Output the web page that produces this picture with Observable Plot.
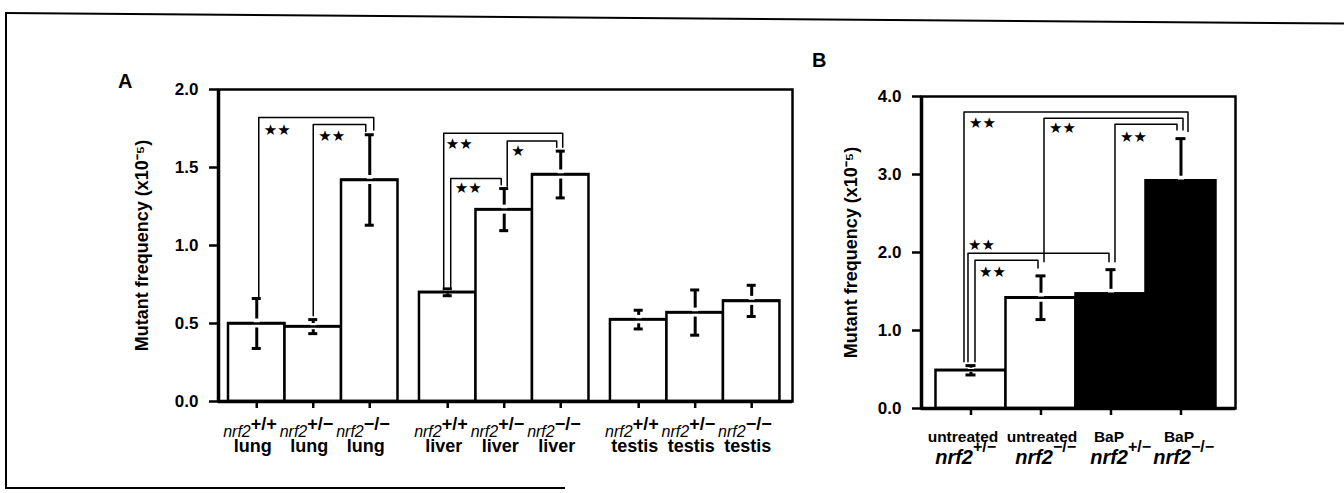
<!DOCTYPE html>
<html><head><meta charset="utf-8">
<script src="https://cdn.jsdelivr.net/npm/d3@7"></script>
<script src="https://cdn.jsdelivr.net/npm/@observablehq/plot@0.6"></script>
<style>
html,body{margin:0;padding:0;background:#fff}
body{width:1344px;height:493px;position:relative;overflow:hidden;font-family:"Liberation Sans",Arial,Helvetica,sans-serif}
.panel{position:absolute}
.panel svg{max-width:none;overflow:visible;background:transparent}
.letter{position:absolute;font-weight:bold;font-size:20px;line-height:1}
.bl{position:absolute;background:#000}
</style></head><body>
<div class="bl" style="left:5px;top:12px;width:1.5px;height:476px"></div>
<div class="bl" style="left:5px;top:487px;width:560px;height:1.5px"></div>
<div class="bl" style="left:5px;top:12px;width:1340px;height:1.5px;transform-origin:0 0;transform:rotate(0.45deg)"></div>
<div class="letter" style="left:118px;top:71px">A</div>
<div class="letter" style="left:812px;top:50px">B</div>
<div id="A" class="panel" style="left:100px;top:60px;width:700px"></div>
<div id="B" class="panel" style="left:800px;top:60px;width:470px"></div>
<script>
// ---------------- DATA ----------------
// Panel A: mutant frequency by tissue and genotype
const tissuesA = ["lung", "liver", "testis"];
const genotypesA = ["+/+", "+/−", "−/−"];
const meanA = [0.50, 0.48, 1.42, 0.70, 1.23, 1.455, 0.525, 0.57, 0.645];
const errA  = [0.16, 0.045, 0.29, 0.022, 0.135, 0.15, 0.06, 0.145, 0.10];
const yTicksA = [0, 0.5, 1.0, 1.5, 2.0];
// significance brackets (bar indices, heights in y units)
const brFromA = [0, 1, 3, 3, 4];
const brToA = [2, 2, 5, 4, 5];
const brTopA = [1.82, 1.775, 1.72, 1.43, 1.67];
const brLeftEndA = [0.67, 0.55, 0.72, 0.72, 1.38];
const brRightEndA = [1.74, 1.73, 1.63, 1.39, 1.63];
const brLabelA = ["**", "**", "**", "**", "*"];

// Panel B: untreated vs BaP
const treatmentsB = ["untreated", "untreated", "BaP", "BaP"];
const genotypesB = ["+/−", "−/−", "+/−", "−/−"];
const meanB = [0.49, 1.42, 1.47, 2.92];
const errB = [0.06, 0.28, 0.31, 0.54];
const exposedB = [false, false, true, true];
const yTicksB = [0, 1, 2, 3, 4];
const brFromB = [0, 1, 2, 0, 0];
const brToB = [3, 3, 3, 2, 1];
const brTopB = [3.80, 3.72, 3.645, 1.99, 1.90];
const brLeftEndB = [0.60, 1.88, 1.88, 0.60, 0.60];
const brRightEndB = [3.55, 3.57, 3.57, 1.88, 1.80];
const brLabelB = ["**", "**", "**", "**", "**"];

const yLabel = "Mutant frequency (x10⁻⁵)";
const FONT = '"Liberation Sans", Arial, Helvetica, sans-serif';

// ---------------- LAYOUT / BUILD ----------------
function buildPanel(o) {
  const plotW = o.width - o.ml - o.mr, plotH = o.height - o.mt - o.mb;
  const ux = plotW / o.xMax, uy = plotH / o.yMax;
  const bars = o.bars.map((b, i) => ({...b, i, lo: b.mean - b.err, hi: b.mean + b.err,
    g: Math.min(o.gapPx / uy, b.err * 0.45)}));
  const capU = o.capPx / ux;
  const segs = [], stars = [];
  o.brackets.forEach((b, k) => {
    const xl = bars[b.from].c + o.legDx[k][0] / ux;
    const xr = bars[b.to].c + o.legDx[k][1] / ux;
    segs.push({k, x: xl, y: b.left}, {k, x: xl, y: b.top}, {k, x: xr, y: b.top}, {k, x: xr, y: b.right});
    stars.push({x: xl + o.starOff[k][0] / ux, y: b.top - o.starOff[k][1] / uy, t: b.label.replace(/\*/g, "★")});
  });
  return Plot.plot({
    width: o.width, height: o.height,
    marginLeft: o.ml, marginRight: o.mr, marginTop: o.mt, marginBottom: o.mb,
    x: {domain: [0, o.xMax]},
    y: {domain: [0, o.yMax]},
    color: {type: "identity"},
    style: {fontFamily: FONT, background: "transparent", overflow: "visible", color: "black"},
    marks: [
      Plot.rectY(bars, {x1: "x1", x2: "x2", y1: 0, y2: "mean", fill: "fill", stroke: "black", strokeWidth: 2.5}),
      Plot.ruleX(bars, {x: "c", y1: "lo", y2: "hi", stroke: "black", strokeWidth: 3}),
      Plot.ruleX(bars, {x: "c", y1: "mean", y2: d => d.mean + d.g, stroke: "white", strokeWidth: 6}),
      Plot.ruleX(bars, {x: "c", y1: d => d.mean - d.g, y2: "mean", stroke: "fill", strokeWidth: 6}),
      Plot.ruleY(bars, {y: "mean", x1: "x1", x2: "x2", stroke: "black", strokeWidth: 2.5}),
      Plot.ruleY(bars, {y: "hi", x1: d => d.c - capU, x2: d => d.c + capU, stroke: "black", strokeWidth: 3}),
      Plot.ruleY(bars, {y: "lo", x1: d => d.c - capU, x2: d => d.c + capU, stroke: "black", strokeWidth: 3}),
      Plot.frame({stroke: "black", strokeWidth: 2.5}),
      Plot.ruleX([0], {stroke: "black", strokeWidth: 3.5}),
      Plot.ruleY([0], {stroke: "black", strokeWidth: 3.5}),
      Plot.axisY(o.yTicks, {tickFormat: d3.format(".1f"), tickSize: 9, tickPadding: 11, fontSize: 17,
        fontWeight: "bold", stroke: "black", strokeWidth: 2.5, label: null}),
      Plot.axisX(bars.map(d => d.c), {tickSize: 7, tickFormat: () => "", stroke: "black", strokeWidth: 2.5, label: null}),
      Plot.text([yLabel], {frameAnchor: "left", textAnchor: "middle", rotate: -90, dx: -o.yLabelOff,
        fontSize: 18, fontWeight: "bold", fill: "black"}),
      Plot.line(segs, {x: "x", y: "y", z: "k", stroke: "black", strokeWidth: 1.5}),
      Plot.text(stars, {x: "x", y: "y", text: "t", textAnchor: "start", fontSize: 15, fontFamily: "DejaVu Sans", fill: "black"}),
      ...o.labelMarks(bars, ux)
    ]
  });
}

// Panel A bars
const padA = 0.177, gapA = 0.38;
const barsA = meanA.map((m, i) => {
  const g = Math.floor(i / 3), j = i % 3;
  const x1 = padA + g * (3 + gapA) + j;
  return {mean: m, err: errA[i], x1, x2: x1 + 1, c: x1 + 0.5, fill: "white",
          tissue: tissuesA[g], geno: genotypesA[j]};
});
const bracketsA = brFromA.map((f, k) => ({from: f, to: brToA[k], top: brTopA[k],
  left: brLeftEndA[k], right: brRightEndA[k], label: brLabelA[k]}));

const chartA = buildPanel({
  width: 700, height: 420, ml: 118, mr: 8, mt: 29, mb: 79,
  xMax: 574 / 56.5, yMax: 2.0, yTicks: yTicksA, bars: barsA, brackets: bracketsA,
  capPx: 4.5, gapPx: 4.5, yLabelOff: 76,
  legDx: [[2, 4], [0, -4], [-4, 2], [3, -3], [3, -4]],
  starOff: [[5, 13], [5, 12], [2, 11], [4, 10], [4, 10]],
  labelMarks: (bars) => [
    Plot.text(bars, {x: "c", y: 0, text: () => "nrf2", dx: -6, dy: 30, textAnchor: "end", fontStyle: "italic", fontSize: 16, fill: "black"}),
    Plot.text(bars, {x: "c", y: 0, text: "geno", dx: -6, dy: 23, textAnchor: "start", fontWeight: "bold", fontSize: 18, fill: "black"}),
    Plot.text(bars, {x: "c", y: 0, text: "tissue", dx: -4, dy: 45, fontWeight: "bold", fontSize: 18, fill: "black"})
  ]
});
document.getElementById("A").appendChild(chartA);

// Panel B bars
const padB = 0.207;
const barsB = meanB.map((m, i) => ({mean: m, err: errB[i], x1: padB + i, x2: padB + i + 1, c: padB + i + 0.5,
  fill: exposedB[i] ? "black" : "white", treat: treatmentsB[i], geno: genotypesB[i]}));
const bracketsB = brFromB.map((f, k) => ({from: f, to: brToB[k], top: brTopB[k],
  left: brLeftEndB[k], right: brRightEndB[k], label: brLabelB[k]}));

// per-label horizontal nudges (px) as in the reference
const line1DxB = [-8, 1, -2, -2];
const line2DxB = [2, 12, 17, 10];
const chartB = buildPanel({
  width: 470, height: 420, ml: 121, mr: 35, mt: 36, mb: 72,
  xMax: 314 / 70, yMax: 4.0, yTicks: yTicksB, bars: barsB, brackets: bracketsB,
  capPx: 5, gapPx: 4.5, yLabelOff: 70,
  legDx: [[-7, 7], [3, 2], [4, -4], [-3, -2], [4, -3]],
  starOff: [[5, 11], [5, 10], [5, 13], [0, -8], [4, 12]],
  labelMarks: (bars, ux) => [
    Plot.text(bars, {x: d => d.c + line1DxB[d.i] / ux, y: 0, text: "treat", dy: 29, fontWeight: "bold", fontSize: 15.5, fill: "black"}),
    Plot.text(bars, {x: d => d.c + line2DxB[d.i] / ux, y: 0, text: () => "nrf2", dy: 49, textAnchor: "end", fontStyle: "italic", fontWeight: "bold", fontSize: 20, fill: "black"}),
    Plot.text(bars, {x: d => d.c + line2DxB[d.i] / ux, y: 0, text: "geno", dy: 38, textAnchor: "start", fontWeight: "bold", fontSize: 16, fill: "black"})
  ]
});
document.getElementById("B").appendChild(chartB);
</script>
</body></html>
